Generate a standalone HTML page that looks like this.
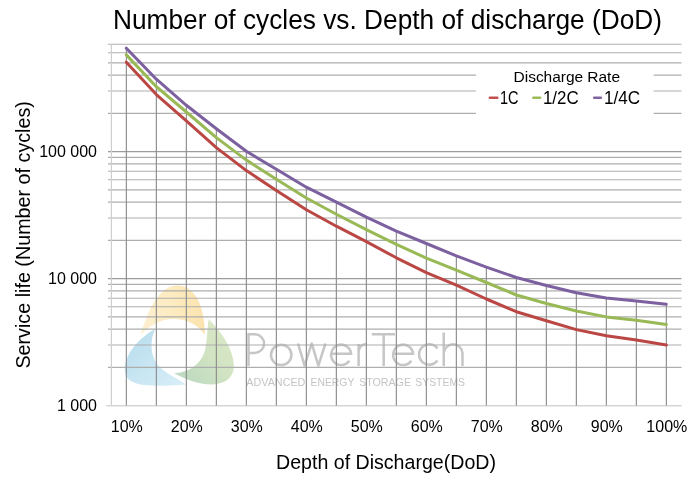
<!DOCTYPE html><html><head><meta charset="utf-8"><style>html,body{margin:0;padding:0;background:#fff;width:700px;height:480px;overflow:hidden;position:relative;font-family:"Liberation Sans",sans-serif}</style></head><body><svg width="700" height="480" viewBox="0 0 700 480" style="position:absolute;left:0;top:0;filter:blur(0.4px)">
<defs><linearGradient id="gy" x1="0" y1="0" x2="1" y2="0"><stop offset="0" stop-color="#fdf0d2"/><stop offset="0.5" stop-color="#fdebc0"/><stop offset="1" stop-color="#fbe3ad"/></linearGradient><linearGradient id="gb" x1="0" y1="0" x2="1" y2="1"><stop offset="0" stop-color="#b6dbec"/><stop offset="0.55" stop-color="#c9e6f3"/><stop offset="1" stop-color="#d9eef7"/></linearGradient><linearGradient id="gg" x1="1" y1="0" x2="0" y2="1"><stop offset="0" stop-color="#dfeac8"/><stop offset="0.5" stop-color="#d0e3c2"/><stop offset="1" stop-color="#b8d7c1"/></linearGradient></defs>
<path d="M140.5,335 C146,318 155,288 176,285.6 C194,284 205,305 204.8,335 C198,325 188,319 173,319 C160,319 149,326 140.5,335 Z" fill="url(#gy)"/>
<path d="M208.7,319.2 C223,333 234.5,352 233.8,367 C233.3,378 225,384 212,384.5 C200,384.5 186,380 174.2,373 C188,373 200,365 204.5,352 C207.5,342 207,328 208.7,319.2 Z" fill="url(#gg)"/>
<path d="M155.1,329 C139.5,338 126,352 124.8,368 C124,378 130.5,383.5 144,385 C158,386.5 172,385.5 186,384.5 C175,377 163,372 157,364 C150,354 150,340 155.1,329 Z" fill="url(#gb)"/>
<path d="M248.5,366 V334.3 H254.8 A9.3,9.3 0 0 1 254.8,352.9 H248.5" stroke="#c6c6c6" stroke-width="2.5" fill="none" stroke-linecap="butt"/>
<circle cx="281.2" cy="354.9" r="10.2" stroke="#c6c6c6" stroke-width="2.5" fill="none" stroke-linecap="butt"/>
<path d="M298,343.5 L304.6,365.6 L311.7,343.5 L318.4,365.6 L325.4,343.5" stroke="#c6c6c6" stroke-width="2.5" fill="none" stroke-linecap="butt" stroke-linejoin="round"/>
<path d="M331.1,353.8 H351.1 A10,10.2 0 1 0 349.3,360.8" stroke="#c6c6c6" stroke-width="2.5" fill="none" stroke-linecap="butt"/>
<path d="M358.6,366 V344 M358.6,353 C358.6,347 362,344 367,344" stroke="#c6c6c6" stroke-width="2.5" fill="none" stroke-linecap="butt"/>
<path d="M371.75,334.3 H395 M383.7,334.3 V366" stroke="#c6c6c6" stroke-width="2.5" fill="none" stroke-linecap="butt"/>
<path d="M393.1,353.8 H413.1 A10,10.2 0 1 0 411.3,360.8" stroke="#c6c6c6" stroke-width="2.5" fill="none" stroke-linecap="butt"/>
<path d="M437.5,348.5 A10.2,10.2 0 1 0 437.5,360.5" stroke="#c6c6c6" stroke-width="2.5" fill="none" stroke-linecap="butt"/>
<path d="M443.75,332.5 V366 M443.75,353 A9.4,9.4 0 0 1 462.5,353 V366" stroke="#c6c6c6" stroke-width="2.5" fill="none" stroke-linecap="butt"/>
<text x="246.3" y="386.3" font-family="Liberation Sans" font-size="11.6" fill="#c4c4c4" textLength="59.1" lengthAdjust="spacingAndGlyphs">ADVANCED</text>
<text x="310.5" y="386.3" font-family="Liberation Sans" font-size="11.6" fill="#c4c4c4" textLength="43.8" lengthAdjust="spacingAndGlyphs">ENERGY</text>
<text x="359.2" y="386.3" font-family="Liberation Sans" font-size="11.6" fill="#c4c4c4" textLength="51.8" lengthAdjust="spacingAndGlyphs">STORAGE</text>
<text x="415.29999999999995" y="386.3" font-family="Liberation Sans" font-size="11.6" fill="#c4c4c4" textLength="49.7" lengthAdjust="spacingAndGlyphs">SYSTEMS</text>
<line x1="108" y1="405.60" x2="681.5" y2="405.60" stroke="#d4d4d4" stroke-width="1.2"/>
<line x1="108" y1="367.37" x2="681.5" y2="367.37" stroke="#aeaeae" stroke-width="1.2"/>
<line x1="108" y1="345.01" x2="681.5" y2="345.01" stroke="#aeaeae" stroke-width="1.2"/>
<line x1="108" y1="329.14" x2="681.5" y2="329.14" stroke="#aeaeae" stroke-width="1.2"/>
<line x1="108" y1="316.83" x2="681.5" y2="316.83" stroke="#aeaeae" stroke-width="1.2"/>
<line x1="108" y1="306.77" x2="681.5" y2="306.77" stroke="#aeaeae" stroke-width="1.2"/>
<line x1="108" y1="298.27" x2="681.5" y2="298.27" stroke="#aeaeae" stroke-width="1.2"/>
<line x1="108" y1="290.91" x2="681.5" y2="290.91" stroke="#aeaeae" stroke-width="1.2"/>
<line x1="108" y1="284.41" x2="681.5" y2="284.41" stroke="#aeaeae" stroke-width="1.2"/>
<line x1="108" y1="278.60" x2="681.5" y2="278.60" stroke="#9c9c9c" stroke-width="1.2"/>
<line x1="108" y1="240.37" x2="681.5" y2="240.37" stroke="#aeaeae" stroke-width="1.2"/>
<line x1="108" y1="218.01" x2="681.5" y2="218.01" stroke="#aeaeae" stroke-width="1.2"/>
<line x1="108" y1="202.14" x2="681.5" y2="202.14" stroke="#aeaeae" stroke-width="1.2"/>
<line x1="108" y1="189.83" x2="681.5" y2="189.83" stroke="#aeaeae" stroke-width="1.2"/>
<line x1="108" y1="179.77" x2="681.5" y2="179.77" stroke="#aeaeae" stroke-width="1.2"/>
<line x1="108" y1="171.27" x2="681.5" y2="171.27" stroke="#aeaeae" stroke-width="1.2"/>
<line x1="108" y1="163.91" x2="681.5" y2="163.91" stroke="#aeaeae" stroke-width="1.2"/>
<line x1="108" y1="157.41" x2="681.5" y2="157.41" stroke="#aeaeae" stroke-width="1.2"/>
<line x1="108" y1="151.60" x2="681.5" y2="151.60" stroke="#9c9c9c" stroke-width="1.2"/>
<line x1="108" y1="113.37" x2="681.5" y2="113.37" stroke="#aeaeae" stroke-width="1.2"/>
<line x1="108" y1="91.01" x2="681.5" y2="91.01" stroke="#aeaeae" stroke-width="1.2"/>
<line x1="108" y1="75.14" x2="681.5" y2="75.14" stroke="#aeaeae" stroke-width="1.2"/>
<line x1="108" y1="62.83" x2="681.5" y2="62.83" stroke="#aeaeae" stroke-width="1.2"/>
<line x1="108" y1="52.77" x2="681.5" y2="52.77" stroke="#aeaeae" stroke-width="1.2"/>
<line x1="108" y1="44.27" x2="681.5" y2="44.27" stroke="#aeaeae" stroke-width="1.2"/>
<line x1="111.4" y1="44.20" x2="111.4" y2="405.6" stroke="#cfcfcf" stroke-width="1.2"/>
<rect x="476" y="64" width="177.6" height="54" fill="#ffffff"/>
<line x1="106" y1="405.6" x2="681.5" y2="405.6" stroke="#d4d4d4" stroke-width="1.2"/>
<line x1="126.35" y1="48.20" x2="126.35" y2="405.6" stroke="#8c8c8c" stroke-width="1.15"/>
<line x1="156.35" y1="79.20" x2="156.35" y2="405.6" stroke="#8c8c8c" stroke-width="1.15"/>
<line x1="186.35" y1="105.30" x2="186.35" y2="405.6" stroke="#8c8c8c" stroke-width="1.15"/>
<line x1="216.35" y1="128.80" x2="216.35" y2="405.6" stroke="#8c8c8c" stroke-width="1.15"/>
<line x1="246.35" y1="151.30" x2="246.35" y2="405.6" stroke="#8c8c8c" stroke-width="1.15"/>
<line x1="276.35" y1="169.20" x2="276.35" y2="405.6" stroke="#8c8c8c" stroke-width="1.15"/>
<line x1="306.35" y1="187.20" x2="306.35" y2="405.6" stroke="#8c8c8c" stroke-width="1.15"/>
<line x1="336.35" y1="202.10" x2="336.35" y2="405.6" stroke="#8c8c8c" stroke-width="1.15"/>
<line x1="366.35" y1="217.10" x2="366.35" y2="405.6" stroke="#8c8c8c" stroke-width="1.15"/>
<line x1="396.35" y1="231.10" x2="396.35" y2="405.6" stroke="#8c8c8c" stroke-width="1.15"/>
<line x1="426.35" y1="243.50" x2="426.35" y2="405.6" stroke="#8c8c8c" stroke-width="1.15"/>
<line x1="456.35" y1="255.90" x2="456.35" y2="405.6" stroke="#8c8c8c" stroke-width="1.15"/>
<line x1="486.35" y1="267.10" x2="486.35" y2="405.6" stroke="#8c8c8c" stroke-width="1.15"/>
<line x1="516.35" y1="277.50" x2="516.35" y2="405.6" stroke="#8c8c8c" stroke-width="1.15"/>
<line x1="546.35" y1="285.50" x2="546.35" y2="405.6" stroke="#8c8c8c" stroke-width="1.15"/>
<line x1="576.35" y1="292.80" x2="576.35" y2="405.6" stroke="#8c8c8c" stroke-width="1.15"/>
<line x1="606.35" y1="298.10" x2="606.35" y2="405.6" stroke="#8c8c8c" stroke-width="1.15"/>
<line x1="636.35" y1="300.90" x2="636.35" y2="405.6" stroke="#8c8c8c" stroke-width="1.15"/>
<line x1="666.35" y1="304.20" x2="666.35" y2="405.6" stroke="#8c8c8c" stroke-width="1.15"/>
<polyline points="126.35,62.20 156.35,94.60 186.35,120.80 216.35,147.60 246.35,170.60 276.35,190.40 306.35,209.70 336.35,226.20 366.35,241.70 396.35,257.80 426.35,272.70 456.35,285.20 486.35,299.00 516.35,311.70 546.35,320.70 576.35,329.60 606.35,335.80 636.35,340.10 666.35,345.10" fill="none" stroke="#bb4744" stroke-width="3.0" stroke-linejoin="round" stroke-linecap="round"/>
<polyline points="126.35,54.90 156.35,86.70 186.35,112.00 216.35,137.60 246.35,160.10 276.35,179.20 306.35,198.00 336.35,214.20 366.35,229.60 396.35,244.40 426.35,258.10 456.35,270.10 486.35,282.50 516.35,295.00 546.35,303.50 576.35,311.00 606.35,316.90 636.35,320.30 666.35,324.60" fill="none" stroke="#98b955" stroke-width="3.0" stroke-linejoin="round" stroke-linecap="round"/>
<polyline points="126.35,48.20 156.35,79.20 186.35,105.30 216.35,128.80 246.35,151.30 276.35,169.20 306.35,187.20 336.35,202.10 366.35,217.10 396.35,231.10 426.35,243.50 456.35,255.90 486.35,267.10 516.35,277.50 546.35,285.50 576.35,292.80 606.35,298.10 636.35,300.90 666.35,304.20" fill="none" stroke="#7c60a0" stroke-width="3.0" stroke-linejoin="round" stroke-linecap="round"/>
<text x="113" y="28.8" font-family="Liberation Sans" font-size="27" fill="#000" textLength="549" lengthAdjust="spacingAndGlyphs">Number of cycles vs. Depth of discharge (DoD)</text>
<text x="97" y="157.10" font-family="Liberation Sans" font-size="16" fill="#000" text-anchor="end">100 000</text>
<text x="97" y="284.10" font-family="Liberation Sans" font-size="16" fill="#000" text-anchor="end">10 000</text>
<text x="97" y="411.10" font-family="Liberation Sans" font-size="16" fill="#000" text-anchor="end">1 000</text>
<text x="126.80" y="431.7" font-family="Liberation Sans" font-size="16" fill="#000" text-anchor="middle">10%</text>
<text x="186.80" y="431.7" font-family="Liberation Sans" font-size="16" fill="#000" text-anchor="middle">20%</text>
<text x="246.80" y="431.7" font-family="Liberation Sans" font-size="16" fill="#000" text-anchor="middle">30%</text>
<text x="306.80" y="431.7" font-family="Liberation Sans" font-size="16" fill="#000" text-anchor="middle">40%</text>
<text x="366.80" y="431.7" font-family="Liberation Sans" font-size="16" fill="#000" text-anchor="middle">50%</text>
<text x="426.80" y="431.7" font-family="Liberation Sans" font-size="16" fill="#000" text-anchor="middle">60%</text>
<text x="486.80" y="431.7" font-family="Liberation Sans" font-size="16" fill="#000" text-anchor="middle">70%</text>
<text x="546.80" y="431.7" font-family="Liberation Sans" font-size="16" fill="#000" text-anchor="middle">80%</text>
<text x="606.80" y="431.7" font-family="Liberation Sans" font-size="16" fill="#000" text-anchor="middle">90%</text>
<text x="666.80" y="431.7" font-family="Liberation Sans" font-size="16" fill="#000" text-anchor="middle">100%</text>
<text x="276" y="469.3" font-family="Liberation Sans" font-size="20.5" fill="#000" textLength="220" lengthAdjust="spacingAndGlyphs">Depth of Discharge(DoD)</text>
<text transform="translate(29.8,368.6) rotate(-90)" x="0" y="0" font-family="Liberation Sans" font-size="20.5" fill="#000" textLength="267.5" lengthAdjust="spacingAndGlyphs">Service life (Number of cycles)</text>
<text x="513.6" y="82" font-family="Liberation Sans" font-size="15.5" fill="#000" textLength="106.4" lengthAdjust="spacing">Discharge Rate</text>
<line x1="489.90000000000003" y1="97.7" x2="497.3" y2="97.7" stroke="#c0504d" stroke-width="2.6" stroke-linecap="round"/>
<line x1="533.4" y1="97.7" x2="540.1" y2="97.7" stroke="#9bbb59" stroke-width="2.6" stroke-linecap="round"/>
<line x1="594.1999999999999" y1="97.7" x2="600.8000000000001" y2="97.7" stroke="#8064a2" stroke-width="2.6" stroke-linecap="round"/>
<text x="500" y="103.7" font-family="Liberation Sans" font-size="18.5" fill="#000" textLength="18.6" lengthAdjust="spacingAndGlyphs">1C</text>
<text x="542.9" y="103.7" font-family="Liberation Sans" font-size="18.5" fill="#000" textLength="35.7" lengthAdjust="spacingAndGlyphs">1/2C</text>
<text x="603.9" y="103.7" font-family="Liberation Sans" font-size="18.5" fill="#000" textLength="36.1" lengthAdjust="spacingAndGlyphs">1/4C</text>
</svg></body></html>
